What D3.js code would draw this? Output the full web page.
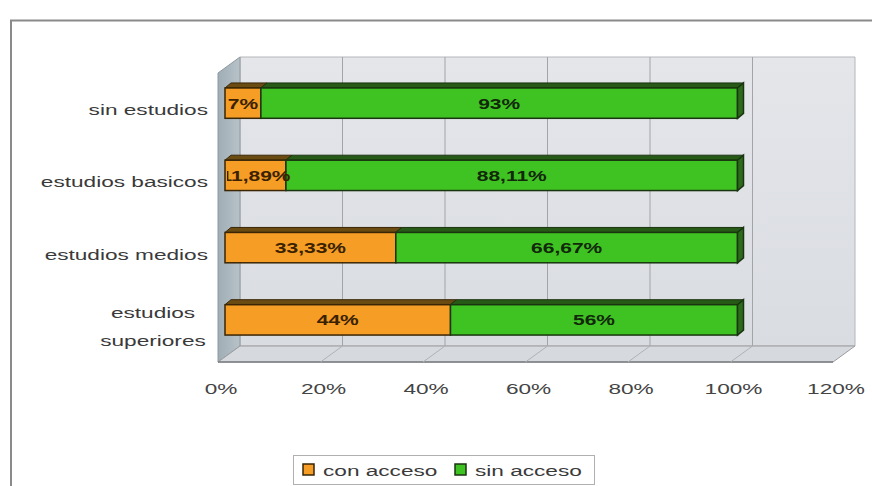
<!DOCTYPE html>
<html>
<head>
<meta charset="utf-8">
<script src="https://cdn.jsdelivr.net/npm/d3@7/dist/d3.min.js"></script>
<style>
  html, body { margin: 0; padding: 0; background: #fff; }
  svg { display: block; }
  text { font-family: "Liberation Sans", Arial, sans-serif; }
</style>
</head>
<body>
<svg id="chart" width="872" height="486"></svg>
<script>
// ---- data ----
const categories = ["sin estudios", "estudios basicos", "estudios medios", "estudios superiores"];
const categoryLines = [["sin estudios"], ["estudios basicos"], ["estudios medios"], ["estudios", "superiores"]];
const seriesNames = ["con acceso", "sin acceso"];
const conAcceso = [7, 11.89, 33.33, 44];
const sinAcceso = [93, 88.11, 66.67, 56];
const conLabels = ["7%", "11,89%", "33,33%", "44%"];
const sinLabels = ["93%", "88,11%", "66,67%", "56%"];
const tickValues = [0, 20, 40, 60, 80, 100, 120];
const tickLabels = ["0%", "20%", "40%", "60%", "80%", "100%", "120%"];

// ---- styles ----
const SX = 1.46; // horizontal text stretch of the reference
const SXL = 1.4;
const colors = {
  front: ["#f59d25", "#3fc322"],
  top: ["#6a4c12", "#275a16"],
  side: ["#8a5a10", "#2c6a1c"],
  stroke: ["#3a2606", "#1a3410"],
  label: ["#3a2200", "#12280a"]
};

const svg = d3.select("#chart");

// outer frame
svg.append("rect").attr("x", 11).attr("y", 20.5).attr("width", 900).attr("height", 500)
  .attr("fill", "#fff").attr("stroke", "#8a8a8a").attr("stroke-width", 2);

// ---- scales ----
const x = d3.scaleLinear().domain([0, 120]).range([218, 833]);
const y = d3.scaleBand().domain(categories).range([73, 362]).paddingInner(0.58).paddingOuter(0.29);
const D = { dx: 22, dy: -16 };     // wall depth
const B0 = { dx: 7, dy: -6 };      // bar front offset
const B1 = { dx: 6, dy: -5 };      // bar depth
const yTop = y.range()[0], yBot = y.range()[1];
const X0 = x(0), X1 = x(120);

const pts = a => a.map(p => p.join(",")).join(" ");

// defs
const defs = svg.append("defs");
const gWall = defs.append("linearGradient").attr("id", "wallG").attr("x1", 0).attr("y1", 0).attr("x2", 0).attr("y2", 1);
gWall.append("stop").attr("offset", 0).attr("stop-color", "#e4e6ea");
gWall.append("stop").attr("offset", 1).attr("stop-color", "#d9dce1");
const gSide = defs.append("linearGradient").attr("id", "sideG").attr("x1", 0).attr("y1", 0).attr("x2", 1).attr("y2", 0);
gSide.append("stop").attr("offset", 0).attr("stop-color", "#9fadb5");
gSide.append("stop").attr("offset", 1).attr("stop-color", "#b7c2c8");
defs.append("clipPath").attr("id", "plotClip").append("rect")
  .attr("x", X0 + B0.dx + 2).attr("y", 0).attr("width", 700).attr("height", 486);

// back wall
svg.append("polygon")
  .attr("points", pts([[X0 + D.dx, yTop + D.dy], [X1 + D.dx, yTop + D.dy], [X1 + D.dx, yBot + D.dy], [X0 + D.dx, yBot + D.dy]]))
  .attr("fill", "url(#wallG)").attr("stroke", "#b4b6ba").attr("stroke-width", 1);
// side wall
svg.append("polygon")
  .attr("points", pts([[X0, yTop], [X0 + D.dx, yTop + D.dy], [X0 + D.dx, yBot + D.dy], [X0, yBot]]))
  .attr("fill", "url(#sideG)").attr("stroke", "#8f9aa0").attr("stroke-width", 1);
// floor
svg.append("polygon")
  .attr("points", pts([[X0, yBot], [X1, yBot], [X1 + D.dx, yBot + D.dy], [X0 + D.dx, yBot + D.dy]]))
  .attr("fill", "#d6d9dd").attr("stroke", "#9a9ca0").attr("stroke-width", 1);
svg.append("line").attr("x1", X0).attr("x2", X1).attr("y1", yBot).attr("y2", yBot)
  .attr("stroke", "#7c7e82").attr("stroke-width", 1.5);

// gridlines
const grid = tickValues.filter(v => v > 0 && v < 120);
svg.append("g").selectAll("line").data(grid).join("line")
  .attr("x1", d => x(d) + D.dx).attr("x2", d => x(d) + D.dx)
  .attr("y1", yTop + D.dy).attr("y2", yBot + D.dy)
  .attr("stroke", "#a2a4a8").attr("stroke-width", 1);
svg.append("g").selectAll("line").data(grid).join("line")
  .attr("x1", d => x(d) + D.dx).attr("x2", d => x(d))
  .attr("y1", yBot + D.dy).attr("y2", yBot)
  .attr("stroke", "#b0b2b6").attr("stroke-width", 1);

// ---- bars ----
const rows = categories.map((c, i) => {
  const v = [conAcceso[i], sinAcceso[i]];
  const l = [conLabels[i], sinLabels[i]];
  let acc = 0;
  return v.map((val, s) => {
    const seg = { cat: c, s, x0: acc, x1: acc + val, label: l[s] };
    acc += val;
    return seg;
  });
});
const bw = y.bandwidth();
const barsG = svg.append("g");
rows.forEach(segs => {
  segs.forEach((seg, k) => {
    const fx0 = x(seg.x0) + B0.dx, fx1 = x(seg.x1) + B0.dx;
    const fy0 = y(seg.cat) + B0.dy, fy1 = fy0 + bw;
    // top face
    barsG.append("polygon")
      .attr("points", pts([[fx0, fy0], [fx1, fy0], [fx1 + B1.dx, fy0 + B1.dy], [fx0 + B1.dx, fy0 + B1.dy]]))
      .attr("fill", colors.top[seg.s]).attr("stroke", colors.stroke[seg.s]).attr("stroke-width", 1);
    // front face
    barsG.append("rect").attr("x", fx0).attr("y", fy0).attr("width", fx1 - fx0).attr("height", bw)
      .attr("fill", colors.front[seg.s]).attr("stroke", colors.stroke[seg.s]).attr("stroke-width", 1.5);
    // right face of the last segment
    if (k === segs.length - 1) {
      barsG.append("polygon")
        .attr("points", pts([[fx1, fy0], [fx1 + B1.dx, fy0 + B1.dy], [fx1 + B1.dx, fy1 + B1.dy], [fx1, fy1]]))
        .attr("fill", colors.side[seg.s]).attr("stroke", colors.stroke[seg.s]).attr("stroke-width", 1.5);
    }
  });
});

// data labels
const labG = svg.append("g").attr("clip-path", "url(#plotClip)");
rows.flat().forEach(seg => {
  const cx = (x(seg.x0) + x(seg.x1)) / 2 + B0.dx;
  const cy = y(seg.cat) + B0.dy + bw / 2 + 5.5;
  labG.append("text")
    .attr("transform", `translate(${cx},${cy}) scale(${SXL},1)`)
    .attr("text-anchor", "middle")
    .attr("font-size", 15).attr("font-weight", "bold")
    .attr("fill", colors.label[seg.s])
    .text(seg.label);
});

// category labels
categories.forEach((c, i) => {
  const lines = categoryLines[i];
  const cy = y(c) + bw / 2;
  const lh = 28;
  const start = cy - (lines.length - 1) * lh / 2 + 6;
  lines.forEach((t, j) => {
    svg.append("text")
      .attr("transform", `translate(${lines.length > 1 ? 153 : X0 - 10},${start + j * lh}) scale(${SX},1)`)
      .attr("text-anchor", lines.length > 1 ? "middle" : "end")
      .attr("font-size", 15.5).attr("fill", "#3a3a3a")
      .text(t);
  });
});

// x tick labels
tickValues.forEach((v, i) => {
  svg.append("text")
    .attr("transform", `translate(${x(v) + 3},${yBot + 32}) scale(${SX},1)`)
    .attr("text-anchor", "middle")
    .attr("font-size", 15.5).attr("fill", "#444")
    .text(tickLabels[i]);
});

// legend
const lg = svg.append("g");
lg.append("rect").attr("x", 293.5).attr("y", 455.5).attr("width", 301).attr("height", 29)
  .attr("fill", "#fff").attr("stroke", "#b0b0b0").attr("stroke-width", 1);
const legX = [303, 455];
seriesNames.forEach((n, s) => {
  lg.append("rect").attr("x", legX[s]).attr("y", 464).attr("width", 11).attr("height", 11)
    .attr("fill", colors.front[s]).attr("stroke", colors.stroke[s]).attr("stroke-width", 1.5);
  lg.append("text")
    .attr("transform", `translate(${legX[s] + 20},${476}) scale(${SX},1)`)
    .attr("font-size", 15.5).attr("fill", "#3a3a3a")
    .text(n);
});
</script>
</body>
</html>
